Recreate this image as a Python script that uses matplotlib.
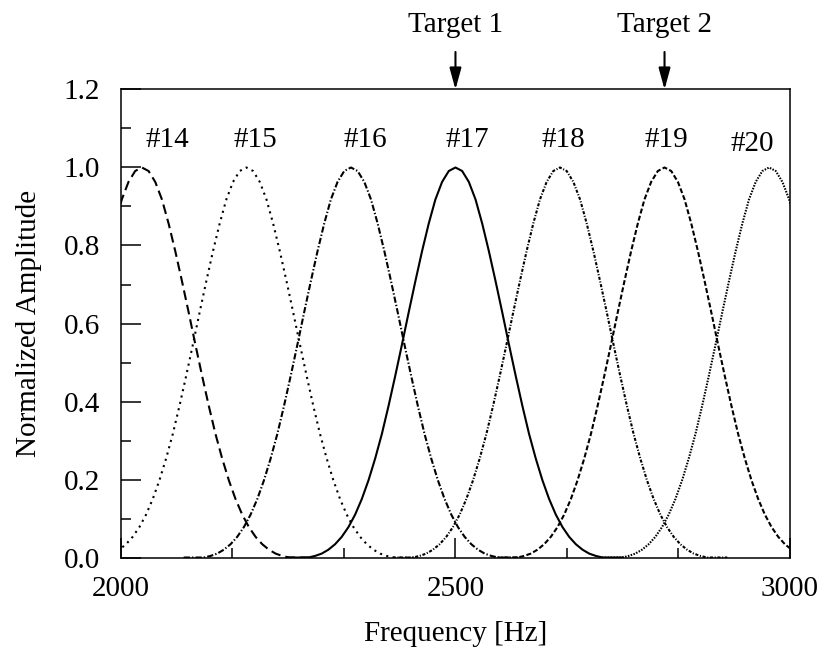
import numpy as np
import matplotlib
matplotlib.use("Agg")
import matplotlib.pyplot as plt
from matplotlib.ticker import FixedLocator

offsets = [0, 10, 20, 30, 40, 50, 60, 70, 80, 90, 100, 110, 120, 130, 140,
           150, 160, 170, 180, 190, 200, 210, 220, 250]
profile = [1.000, 0.991, 0.963, 0.918, 0.856, 0.785, 0.708, 0.628, 0.546,
           0.466, 0.389, 0.317, 0.254, 0.198, 0.150, 0.110, 0.078, 0.053,
           0.034, 0.020, 0.010, 0.004, 0.000, 0.000]

channels = ["#14", "#15", "#16", "#17", "#18", "#19", "#20"]
centers = [2031.25, 2187.5, 2343.75, 2500.0, 2656.25, 2812.5, 2968.75]
label_x = [2070, 2201, 2365, 2517, 2661, 2816, 2943]
label_y = [1.07, 1.07, 1.07, 1.07, 1.07, 1.07, 1.06]

targets = ["Target 1", "Target 2"]
target_freqs = [2500.0, 2812.5]

plt.rcParams['font.family'] = ['Liberation Serif', 'DejaVu Serif']
plt.rcParams['lines.scale_dashes'] = False
fs = 21

styles = [(0, (7.0, 3.6)),
          (0, (1.5, 3.2)),
          (0, (4.5, 1.5, 1.0, 1.5)),
          '-',
          (0, (2.2, 1.2, 0.8, 1.2)),
          (0, (3.6, 1.7)),
          (0, (1.1, 1.0))]

fig = plt.figure(figsize=(8.24, 6.58), dpi=100)
ax = fig.add_axes([0.1468, 0.1527, 0.8119, 0.7113])

off = np.array(offsets)
prof = np.array(profile)
x_shape = np.concatenate([-off[::-1], off[1:]])
y_shape = np.concatenate([prof[::-1], prof[1:]])

for c, ls in zip(centers, styles):
    ax.plot(c + x_shape, y_shape, color='black', lw=1.5, linestyle=ls)

for name, lx, ly in zip(channels, label_x, label_y):
    ax.text(lx, ly, name, ha='center', va='center', fontsize=fs)

for name, f in zip(targets, target_freqs):
    ax.annotate(name, xy=(f, 1.2), xycoords='data',
                xytext=(0, 37), textcoords='offset points',
                ha='center', va='bottom', fontsize=fs,
                arrowprops=dict(arrowstyle='-|>,head_length=0.62,head_width=0.17',
                                color='black', lw=1.5, shrinkA=8, shrinkB=0),
                annotation_clip=False)

ax.set_xlim(2000, 3000)
ax.set_ylim(0, 1.2)

ax.xaxis.set_major_locator(FixedLocator([2000, 2500, 3000]))
ax.xaxis.set_minor_locator(FixedLocator([2000 + 1000 / 6 * k for k in (1, 2, 4, 5)]))
ax.yaxis.set_major_locator(FixedLocator([0, 0.2, 0.4, 0.6, 0.8, 1.0, 1.2]))
ax.yaxis.set_minor_locator(FixedLocator([0.1, 0.3, 0.5, 0.7, 0.9, 1.1]))
ax.set_yticklabels(["0.0", "0.2", "0.4", "0.6", "0.8", "1.0", "1.2"])
ax.set_xticklabels(["2000", "2500", "3000"])

ax.tick_params(which='major', direction='in', length=14.4, width=1.1,
               labelsize=fs, top=False, right=False)
ax.tick_params(axis='y', which='major', pad=15)
ax.tick_params(axis='x', which='major', pad=13)
ax.tick_params(which='minor', direction='in', length=7.2, width=1.1,
               top=False, right=False)

for sp in ax.spines.values():
    sp.set_linewidth(1.1)

ax.set_xlabel("Frequency [Hz]", fontsize=fs, labelpad=14)
ax.set_ylabel("Normalized Amplitude", fontsize=fs, labelpad=16)

fig.savefig("out.png", dpi=100)
